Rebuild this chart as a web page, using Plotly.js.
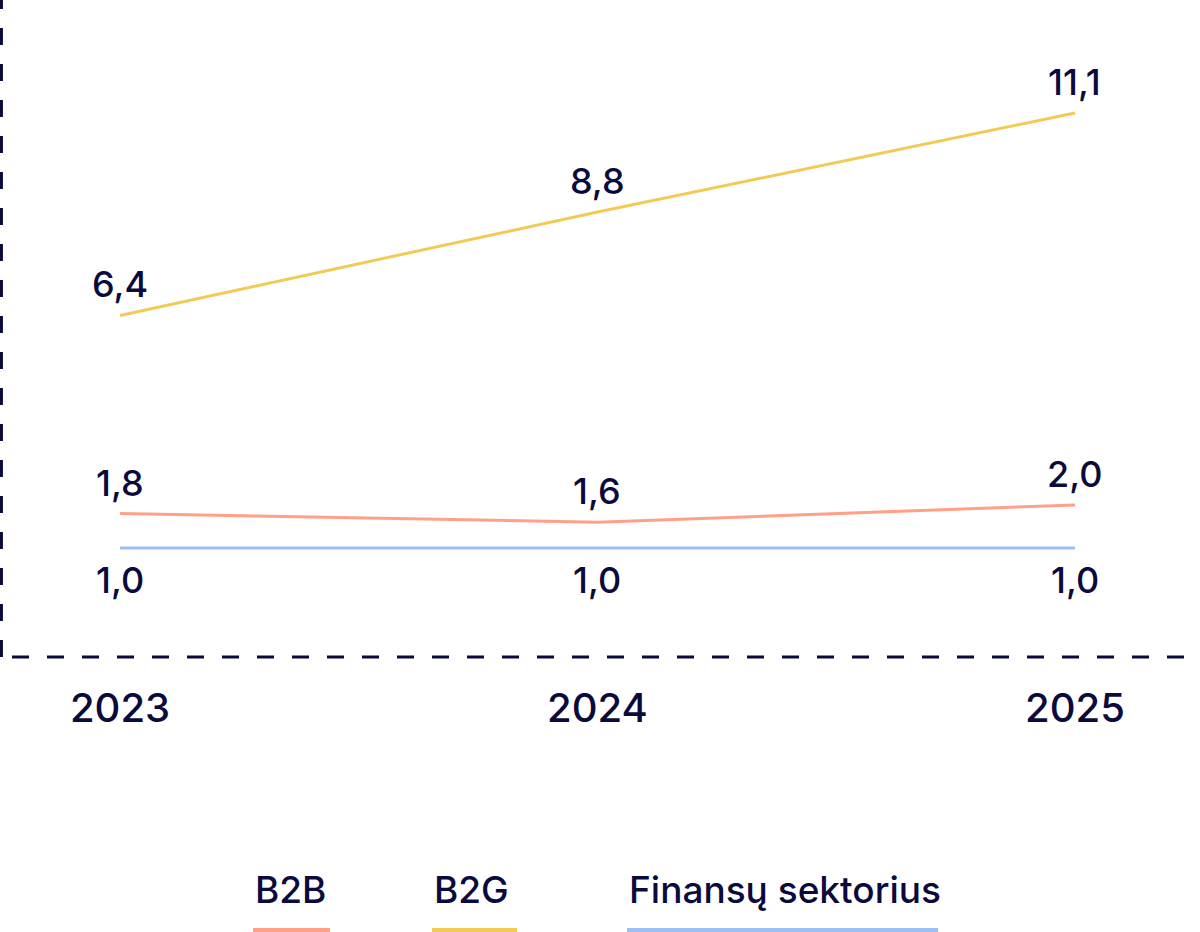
<!DOCTYPE html>
<html>
<head>
<meta charset="utf-8">
<script src="https://cdn.plot.ly/plotly-3.0.1.min.js"></script>
<style>html,body{margin:0;padding:0;background:#fff;}#chart{width:1200px;height:932px;}</style>
</head>
<body>
<div id="chart"></div>
<script>
const years = [2023, 2024, 2025];
const yearLabels = ["2023", "2024", "2025"];
const b2b = [1.8, 1.6, 2.0];
const b2g = [6.4, 8.8, 11.1];
const finansai = [1.0, 1.0, 1.0];
const seriesNames = ["B2B", "B2G", "Finansų sektorius"];
const seriesColors = ["#ffa087", "#f2ca55", "#9dbff2"];
const navy = "#0b0a3d";
const FONT = "Inter, 'Open Sans', sans-serif";

const fmt = v => v.toFixed(1).replace(".", ",");

const seriesData = [b2b, b2g, finansai];
const labelShift = [31, 31, -32];

const traces = seriesData.map((vals, i) => ({
  x: years, y: vals, type: "scatter", mode: "lines",
  name: seriesNames[i],
  line: {color: seriesColors[i], width: 3},
  hoverinfo: "skip", showlegend: false
}));

const annotations = [];
seriesData.forEach((vals, i) => {
  vals.forEach((v, j) => {
    annotations.push({
      x: years[j], y: v, xref: "x", yref: "y",
      text: fmt(v), showarrow: false,
      yshift: labelShift[i], xanchor: "center", yanchor: "middle",
      font: {family: FONT, size: 36, color: navy, weight: 500}
    });
  });
});

// custom legend (text with coloured bar underneath)
const legendLeft = [253, 432, 627];
const legendWidth = [77, 85, 311];
const W = 1200, plotH = 657;
const shapes = [
  {type: "line", xref: "paper", yref: "paper", x0: 0.0012, x1: 0.0012, y0: 0, y1: 1,
   line: {color: navy, width: 3, dash: "17px,19px"}},
  {type: "line", xref: "paper", yref: "paper", x0: 0.01, x1: 1, y0: 0, y1: 0,
   line: {color: navy, width: 3, dash: "17px,18px"}}
];
seriesNames.forEach((n, i) => {
  annotations.push({
    x: legendLeft[i] / W, y: (plotH - 889) / plotH, xref: "paper", yref: "paper",
    text: n, showarrow: false, xanchor: "left", yanchor: "middle",
    font: {family: FONT, size: 37, color: navy, weight: 500}
  });
  shapes.push({
    type: "line", xref: "paper", yref: "paper",
    x0: legendLeft[i] / W, x1: (legendLeft[i] + legendWidth[i]) / W,
    y0: (plotH - 930) / plotH, y1: (plotH - 930) / plotH,
    line: {color: seriesColors[i], width: 4}
  });
});

const layout = {
  width: 1200, height: 932,
  margin: {l: 0, r: 0, t: 0, b: 275, pad: 0},
  paper_bgcolor: "#ffffff", plot_bgcolor: "#ffffff",
  showlegend: false,
  xaxis: {
    range: [2022.7487, 2025.2618], tickvals: years, ticktext: yearLabels,
    showgrid: false, zeroline: false, showline: false, ticks: "",
    ticklabelstandoff: 24,
    tickfont: {family: FONT, size: 40, color: navy, weight: 500}, fixedrange: true
  },
  yaxis: {
    range: [-1.531, 13.724], showgrid: false, zeroline: false, showline: false,
    showticklabels: false, ticks: "", fixedrange: true
  },
  shapes: shapes,
  annotations: annotations
};

Plotly.newPlot("chart", traces, layout, {displayModeBar: false, staticPlot: true});
</script>
</body>
</html>
